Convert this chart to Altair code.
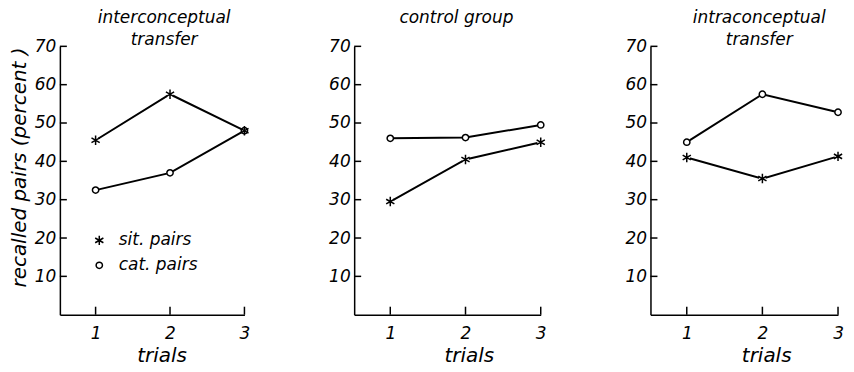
import altair as alt
import pandas as pd

# ---- data ----
trials = [1, 2, 3]
series = ["sit. pairs", "cat. pairs"]
panel_titles = [["interconceptual", "transfer"], ["control group"], ["intraconceptual", "transfer"]]

sit_inter = [45.5, 57.5, 48.0]
cat_inter = [32.5, 37.0, 48.0]
sit_control = [29.5, 40.5, 45.0]
cat_control = [46.0, 46.2, 49.5]
sit_intra = [41.0, 35.5, 41.3]
cat_intra = [45.0, 57.5, 52.8]

y_ticks = [10, 20, 30, 40, 50, 60, 70]
x_ticks = [1, 2, 3]

FONT = "DejaVu Sans"
STAR = "M0,-1.5L0,1.5M-1.3,-0.75L1.3,0.75M-1.3,0.75L1.3,-0.75"
W = [185, 187, 188]
H = 269

panel_values = [(sit_inter, cat_inter), (sit_control, cat_control), (sit_intra, cat_intra)]
title_offsets = [-12, 10, -12]
title_dx = [12, 9, 15]
x_title_x = [102, 115, 116]


def make_panel(i):
    sit, cat = panel_values[i]
    rows = []
    for s, vals in zip(series, (sit, cat)):
        for t, v in zip(trials, vals):
            rows.append({"trial": t, "value": v, "series": s})
    df = pd.DataFrame(rows)

    xscale = alt.Scale(domain=[0.52, 3], nice=False, zero=False)
    yscale = alt.Scale(domain=[0, 70], nice=False)
    shape_scale = alt.Scale(domain=series, range=[STAR, "circle"])

    x_axis = alt.Axis(values=x_ticks, format="d", title="trials", ticks=False, labelPadding=11,
                      labelFlush=False, titleX=x_title_x[i], titlePadding=4)
    if i == 0:
        y_axis = alt.Axis(values=y_ticks, format="d", ticks=False, labelPadding=4,
                          title="recalled pairs (percent )", titlePadding=5, titleY=121)
    else:
        y_axis = alt.Axis(values=y_ticks, format="d", ticks=False, labelPadding=4, title=None)

    base = alt.Chart(df)
    lines = base.mark_line(color="black", strokeWidth=2).encode(
        x=alt.X("trial:Q", scale=xscale, axis=x_axis),
        y=alt.Y("value:Q", scale=yscale, axis=y_axis),
        detail="series:N",
    )
    legend = None
    if i == 0:
        legend = alt.Legend(orient="none", legendX=31, legendY=186, title=None,
                            symbolStrokeColor="black", symbolStrokeWidth=1.5, symbolSize=40,
                            labelFont=FONT, labelFontStyle="italic", labelFontSize=17,
                            labelColor="black", labelOffset=11, rowPadding=7, padding=0)
    backs = base.mark_circle(color="white", size=45, opacity=1).encode(
        x=alt.X("trial:Q", scale=xscale),
        y=alt.Y("value:Q", scale=yscale),
    )
    points = base.mark_point(filled=False, color="black", strokeWidth=1.5, size=40,
                             opacity=1).encode(
        x=alt.X("trial:Q", scale=xscale),
        y=alt.Y("value:Q", scale=yscale),
        shape=alt.Shape("series:N", scale=shape_scale, legend=legend),
    )
    yt = alt.Chart(pd.DataFrame({"v": y_ticks})).mark_rule(color="black", strokeWidth=1.5).encode(
        y=alt.Y("v:Q", scale=yscale), x=alt.value(0), x2=alt.value(7))
    xt = alt.Chart(pd.DataFrame({"t": x_ticks})).mark_rule(color="black", strokeWidth=1.5).encode(
        x=alt.X("t:Q", scale=xscale), y=alt.value(H), y2=alt.value(H - 8))

    return alt.layer(lines, yt, xt, backs, points).properties(
        width=W[i], height=H,
        title=alt.TitleParams(panel_titles[i], font=FONT, fontStyle="italic", fontWeight="normal",
                              fontSize=17, color="black", anchor="middle",
                              offset=title_offsets[i], dx=title_dx[i], lineHeight=22),
    )


chart = alt.hconcat(make_panel(0), make_panel(1), make_panel(2), spacing=110, bounds="flush"
).resolve_scale(shape="independent").resolve_legend(shape="independent").properties(
    padding={"left": 1, "top": 1, "right": 0, "bottom": 0}
).configure_view(stroke=None).configure_axis(
    grid=False, domainColor="black", domainWidth=1.5, labelFont=FONT, labelFontStyle="italic",
    labelFontSize=17, labelColor="black", titleFont=FONT, titleFontStyle="italic",
    titleFontWeight="normal", titleFontSize=20, titleColor="black",
)

chart.save("out.html", embed_options={"renderer": "svg", "actions": False})
